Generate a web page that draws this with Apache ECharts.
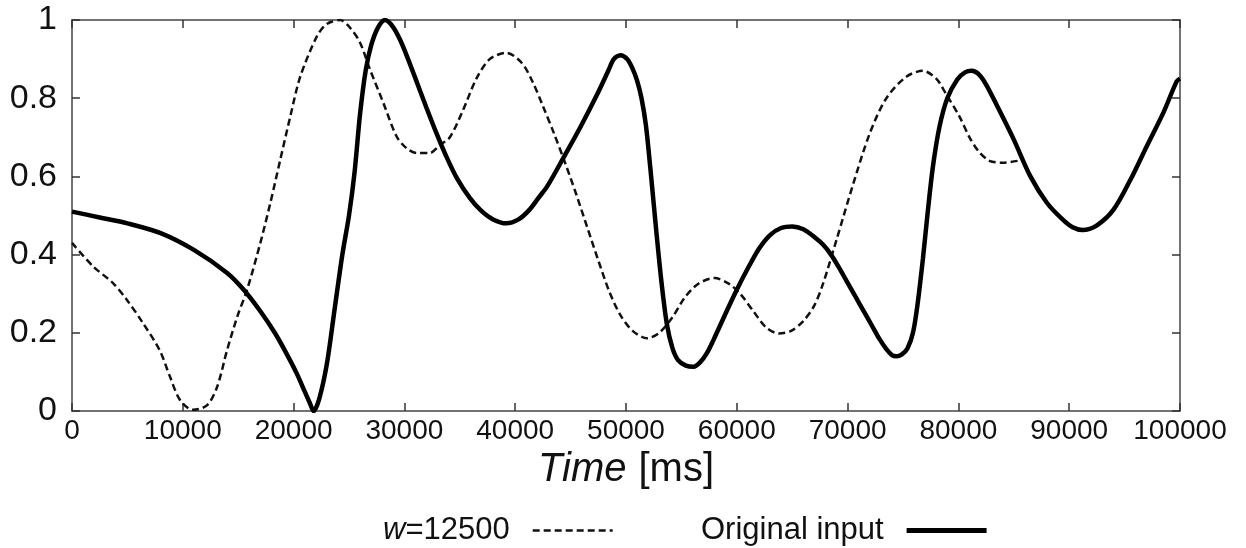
<!DOCTYPE html>
<html>
<head>
<meta charset="utf-8">
<script src="https://cdn.jsdelivr.net/npm/echarts@6/dist/echarts.min.js"></script>
<style>
  html, body { margin: 0; padding: 0; background: #fff; }
  #chart { width: 1246px; height: 548px; }
</style>
</head>
<body>
<div id="chart"></div>
<script>
// original input (solid)
const timeOriginal = [0, 2500, 5000, 8000, 11000, 14000, 15500, 17000, 18300, 19300, 20300, 21000, 21500, 21800, 22300, 23000, 23700, 24400, 25000, 25500, 26000, 26500, 27000, 27600, 28250, 28900, 29600, 30400, 31200, 32000, 32900, 33800, 34750, 35900, 36900, 38000, 39200, 40300, 41300, 42100, 42900, 44400, 45900, 47400, 48400, 48900, 49500, 50100, 50600, 51000, 51400, 51800, 52200, 52700, 53200, 53700, 54200, 54700, 55400, 56100, 56700, 57300, 57900, 59000, 60000, 61000, 62000, 63000, 64000, 65000, 66000, 67000, 67800, 68500, 69200, 69900, 70700, 71400, 72200, 72900, 73500, 74000, 74400, 74900, 75400, 75900, 76300, 76800, 77200, 77700, 78300, 79000, 79900, 80600, 81200, 81800, 82500, 83500, 85000, 86500, 88000, 89400, 90300, 91200, 92500, 94000, 95500, 97000, 98500, 99700, 100000];
const valOriginal = [0.51, 0.495, 0.48, 0.455, 0.412, 0.353, 0.31, 0.255, 0.2, 0.15, 0.095, 0.05, 0.018, 0.0, 0.03, 0.12, 0.26, 0.4, 0.5, 0.61, 0.76, 0.87, 0.935, 0.98, 1.0, 0.985, 0.95, 0.895, 0.835, 0.775, 0.71, 0.65, 0.595, 0.545, 0.513, 0.49, 0.48, 0.49, 0.515, 0.545, 0.575, 0.65, 0.727, 0.81, 0.87, 0.9, 0.91, 0.9, 0.875, 0.845, 0.8, 0.73, 0.62, 0.47, 0.33, 0.22, 0.16, 0.13, 0.116, 0.113, 0.125, 0.148, 0.182, 0.25, 0.31, 0.365, 0.415, 0.45, 0.468, 0.472, 0.465, 0.445, 0.425, 0.4, 0.368, 0.333, 0.293, 0.258, 0.218, 0.183, 0.158, 0.143, 0.14, 0.145, 0.16, 0.2, 0.27, 0.39, 0.5, 0.625, 0.728, 0.8, 0.848, 0.866, 0.87, 0.862, 0.835, 0.78, 0.694, 0.6, 0.532, 0.49, 0.47, 0.463, 0.475, 0.515, 0.59, 0.677, 0.763, 0.843, 0.85];

// w=12500 (dashed)
const timeW = [0, 1900, 3700, 4960, 6400, 7900, 8840, 9750, 10900, 12200, 13100, 14000, 14900, 15800, 17000, 17900, 18800, 19700, 20600, 22100, 23000, 24200, 25100, 26000, 26900, 28100, 29300, 30200, 31100, 32300, 33200, 34100, 35300, 36500, 37700, 39200, 40600, 41600, 42500, 43500, 44500, 45500, 46500, 47500, 48500, 49500, 50600, 51900, 53000, 54200, 55300, 56500, 58000, 59300, 60300, 61500, 62600, 63800, 64900, 66000, 67000, 67800, 69000, 70500, 72000, 73500, 75300, 76800, 78000, 78900, 80100, 81000, 81800, 82800, 84000, 85400];
const valW = [0.43, 0.37, 0.327, 0.284, 0.225, 0.156, 0.088, 0.028, 0.003, 0.015, 0.062, 0.156, 0.24, 0.31, 0.43, 0.532, 0.643, 0.753, 0.855, 0.958, 0.99, 1.0, 0.98, 0.942, 0.873, 0.788, 0.702, 0.672, 0.66, 0.66, 0.68, 0.7, 0.77, 0.85, 0.9, 0.916, 0.89, 0.84, 0.78, 0.71, 0.635, 0.555, 0.47, 0.385, 0.305, 0.245, 0.205, 0.186, 0.2, 0.24, 0.29, 0.325, 0.34, 0.325, 0.3, 0.255, 0.215, 0.198, 0.205, 0.23, 0.27, 0.327, 0.438, 0.58, 0.71, 0.8, 0.855, 0.87, 0.85, 0.81, 0.753, 0.7, 0.665, 0.64, 0.635, 0.64];

const font = '"Liberation Sans", Arial, sans-serif';
const axisColor = '#444';
const dashPattern = [7, 4];

const chart = echarts.init(document.getElementById('chart'));

const frameAxis = {
  axisLine: { show: true, onZero: false, lineStyle: { color: axisColor, width: 1.5 } },
  axisTick: { show: true, inside: true, length: 8, lineStyle: { color: '#333', width: 1.5 } },
  splitLine: { show: false }
};

const option = {
  animation: false,
  backgroundColor: '#fff',
  textStyle: { fontFamily: font, color: '#111' },
  grid: { left: 72, right: 66, top: 20, bottom: 137 },
  legend: {
    left: 378,
    top: 510,
    align: 'right',
    itemWidth: 80,
    itemHeight: 14,
    itemGap: 87,
    itemStyle: { color: 'rgba(0,0,0,0)', borderWidth: 0 },
    data: [
      { name: 'w=12500', lineStyle: { color: '#111', width: 2.5, type: dashPattern } },
      { name: 'Original input', lineStyle: { color: '#000', width: 5 } }
    ],
    formatter: function (name) {
      return name === 'w=12500' ? '{i|w}{n|=12500}' : '{n|' + name + '}';
    },
    textStyle: {
      padding: [0, 18, 0, 0],
      rich: {
        i: { fontFamily: font, fontSize: 31, fontStyle: 'italic', color: '#111' },
        n: { fontFamily: font, fontSize: 31, color: '#111' }
      }
    }
  },
  xAxis: [
    Object.assign({
      type: 'value',
      position: 'bottom',
      min: 0,
      max: 100000,
      interval: 10000,
      name: '{i|Time}{n|[ms]}',
      nameLocation: 'middle',
      nameGap: 32,
      nameTextStyle: {
        rich: {
          i: { fontFamily: font, fontSize: 40, fontStyle: 'italic', color: '#111' },
          n: { fontFamily: font, fontSize: 40, color: '#111', padding: [0, 0, 0, 12] }
        }
      },
      axisLabel: { fontFamily: font, fontSize: 28, color: '#111', margin: 6, formatter: v => String(v) }
    }, frameAxis),
    Object.assign({
      type: 'value',
      position: 'top',
      min: 0,
      max: 100000,
      interval: 10000,
      axisLabel: { show: false }
    }, frameAxis)
  ],
  yAxis: [
    Object.assign({
      type: 'value',
      position: 'left',
      min: 0,
      max: 1,
      interval: 0.2,
      axisLabel: { fontFamily: font, fontSize: 34, color: '#111', margin: 15 }
    }, frameAxis),
    Object.assign({
      type: 'value',
      position: 'right',
      min: 0,
      max: 1,
      interval: 0.2,
      axisLabel: { show: false }
    }, frameAxis)
  ],
  series: [
    {
      name: 'w=12500',
      type: 'line',
      data: timeW.map((t, i) => [t, valW[i]]),
      showSymbol: false,
      symbol: 'none',
      smooth: 0.3,
      lineStyle: { color: '#111', width: 2.5, type: dashPattern },
      itemStyle: { color: '#111' }
    },
    {
      name: 'Original input',
      type: 'line',
      data: timeOriginal.map((t, i) => [t, valOriginal[i]]),
      showSymbol: false,
      symbol: 'none',
      smooth: 0.3,
      lineStyle: { color: '#000', width: 4.5 },
      itemStyle: { color: '#000' }
    }
  ]
};

chart.setOption(option);
</script>
</body>
</html>
